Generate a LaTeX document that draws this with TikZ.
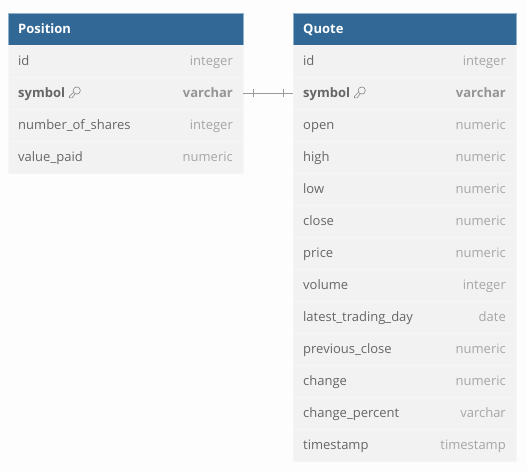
\documentclass[tikz,border=0pt]{standalone}
\usepackage{fontspec}
\setmainfont{Open Sans}
\definecolor{headblue}{HTML}{316896}
\definecolor{headedge}{HTML}{8FB0CB}
\definecolor{rowfill}{HTML}{F2F2F2}
\definecolor{rowedge}{HTML}{F6F6F6}
\definecolor{namegray}{HTML}{666666}
\definecolor{typegray}{HTML}{A6A6A6}
\definecolor{keygray}{HTML}{858585}
\definecolor{linkgray}{HTML}{9A9A9A}
\definecolor{pagegray}{HTML}{FDFDFD}
\tikzset{
    headbox/.style={draw=headedge, line width=0.8pt, fill=headblue, minimum height=32pt, inner sep=0pt, outer sep=0pt, anchor=north west},
    rowbox/.style={fill=rowfill, draw=rowedge, line width=0.6pt, minimum height=32pt, inner sep=0pt, outer sep=0pt, anchor=north west},
    headtext/.style={text=white, font=\fontsize{13}{15}\selectfont\bfseries, anchor=west, inner sep=0pt, text height=11.4pt, text depth=3pt},
    nametext/.style={text=namegray, font=\fontsize{13}{15}\selectfont, anchor=west, inner sep=0pt, text height=11.4pt, text depth=3pt},
    typetext/.style={text=typegray, font=\fontsize{13}{15}\selectfont, anchor=east, inner sep=0pt, text height=11.4pt, text depth=3pt},
    keyicon/.style={draw=keygray, line width=0.6pt, line join=round},
}
\begin{document}
\begin{tikzpicture}[x=1pt,y=1pt]
    \useasboundingbox[fill=pagegray] (0,0) rectangle (527,-471);
    % left table
    \node[headbox, minimum width=235pt] (poshead) at (8,-13.5) {};
    \node[headtext] (postitle) at ([xshift=10pt]poshead.west) {Position};
    \foreach \i/\fname/\ftype in {0/id/integer,2/number\_of\_shares/integer,3/value\_paid/numeric}{
        \node[rowbox, minimum width=235pt] (pos\i) at (8,-45-32*\i) {};
        \node[nametext] (posname\i) at ([xshift=10pt]pos\i.west) {\fname};
        \node[typetext] (postype\i) at ([xshift=-10pt]pos\i.east) {\ftype};
    };
    \node[rowbox, minimum width=235pt] (possymbol) at (8,-77) {};
    \node[nametext, font=\fontsize{13}{15}\selectfont\bfseries] (posname) at ([xshift=10pt]possymbol.west) {symbol};
    \node[typetext, font=\fontsize{13}{15}\selectfont\bfseries, text=typegray!90!black] (postype) at ([xshift=-10pt]possymbol.east) {varchar};
    % right table
    \node[headbox, minimum width=223pt] (quohead) at (293,-13.5) {};
    \node[headtext] (quotitle) at ([xshift=10pt]quohead.west) {Quote};
    \foreach \i/\fname/\ftype in {0/id/integer,2/open/numeric,3/high/numeric,4/low/numeric,
        5/close/numeric,6/price/numeric,7/volume/integer,8/latest\_trading\_day/date,
        9/previous\_close/numeric,10/change/numeric,11/change\_percent/varchar,12/timestamp/timestamp}{
        \node[rowbox, minimum width=223pt] (quo\i) at (293,-45-32*\i) {};
        \node[nametext] (quoname\i) at ([xshift=10pt]quo\i.west) {\fname};
        \node[typetext] (quotype\i) at ([xshift=-10pt]quo\i.east) {\ftype};
    };
    \node[rowbox, minimum width=223pt] (quosymbol) at (293,-77) {};
    \node[nametext, font=\fontsize{13}{15}\selectfont\bfseries] (quoname) at ([xshift=10pt]quosymbol.west) {symbol};
    \node[typetext, font=\fontsize{13}{15}\selectfont\bfseries, text=typegray!90!black] (quotype) at ([xshift=-10pt]quosymbol.east) {varchar};
    % keys
    \foreach \k in {posname,quoname}{
        \draw[keyicon] ([xshift=11.5pt,yshift=2.5pt]\k.east) circle (3.6pt);
        \draw[keyicon] ([xshift=8.3pt,yshift=0.8pt]\k.east) -- ([xshift=4.2pt,yshift=-3.2pt]\k.east)
            -- ([xshift=4.2pt,yshift=-4.8pt]\k.east) -- ([xshift=7pt,yshift=-4.8pt]\k.east)
            -- ([xshift=9.8pt,yshift=-0.8pt]\k.east);
    };
    % link
    \draw[linkgray, line width=0.7pt] (possymbol.east) -- (quosymbol.west);
    \draw[linkgray, line width=0.7pt] ([xshift=10pt,yshift=4pt]possymbol.east) -- ([xshift=10pt,yshift=-4pt]possymbol.east);
    \draw[linkgray, line width=0.7pt] ([xshift=-10pt,yshift=4pt]quosymbol.west) -- ([xshift=-10pt,yshift=-4pt]quosymbol.west);
\end{tikzpicture}
\end{document}
